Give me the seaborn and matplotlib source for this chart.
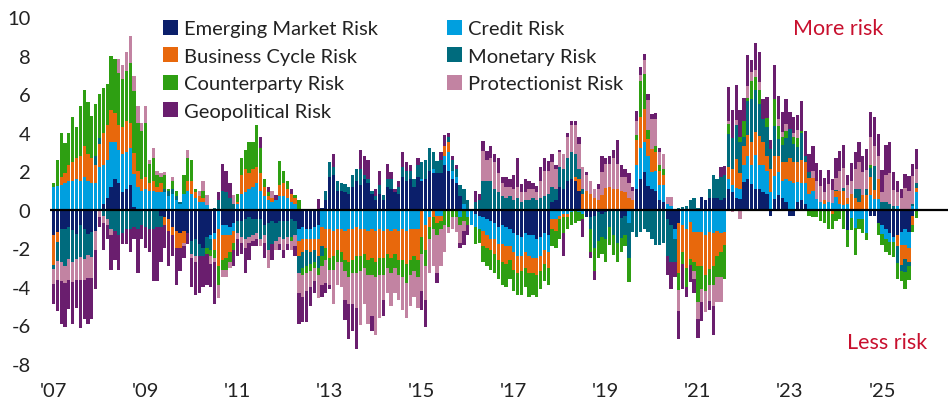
import numpy as np
import matplotlib
matplotlib.use("Agg")
import matplotlib.pyplot as plt
import seaborn as sns
from matplotlib.patches import Patch

# Monthly values, Jan 2007 .. Oct 2025 (12 per row = one year)
emerging_market = [
    -1.33, -1.16, -1.0, -1.0, -0.9, -1.07, -1.24, -0.8, -1.0, -1.24, -1.16, -1.1,
    0.0, 0.3, 0.6, 1.2, 1.6, 1.4, 0.9, 1.1, 1.3, 0.15, 0.0, 0.0,
    0.0, 0.0, 0.0, 0.0, -0.3, -0.4, -0.5, -0.9, -1.1, -1.2, -1.1, -1.2,
    -1.6, -1.5, -1.8, -2.0, -1.4, -1.3, -1.2, 0.0, -0.8, -0.8, -0.9, -0.7,
    -0.6, -0.6, -0.5, -0.4, -0.5, -0.5, -0.5, -0.8, -0.7, -0.6, -0.7, -0.6,
    -0.6, -0.6, -0.5, -0.6, -1.0, -0.9, -1.0, -1.0, -0.9, -0.8, 0.1, 0.5,
    1.7, 1.8, 1.0, 1.0, 0.9, 0.8, 1.2, 1.5, 1.3, 1.6, 1.4, 0.8,
    0.5, 0.8, 0.5, 1.2, 1.1, 0.9, 0.8, 1.7, 1.5, 1.6, 1.2, 1.7,
    1.5, 1.6, 2.0, 1.9, 1.9, 1.9, 2.3, 2.0, 1.6, 1.4, 0.7, 0.0,
    0.0, 0.0, -0.2, -0.3, -0.4, -0.5, -0.6, -0.7, -0.9, -0.8, -0.9, -1.0,
    -1.2, -1.3, -1.4, -1.2, -1.3, -1.3, -1.5, -1.4, -1.2, -1.3, 0.4, 0.5,
    1.2, 1.1, 1.5, 1.6, 1.5, 1.0, 0.0, -0.35, -0.4, -0.3, -0.1, -0.2,
    -0.1, 0.0, 0.0, 0.0, -0.45, -0.3, 0.0, 0.0, 1.1, 1.6, 1.95, 1.25,
    1.1, 1.0, 0.5, 0.4, -0.5, -0.8, -1.0, -0.7, 0.0, 0.0, 0.0, 0.0,
    0.0, 0.65, 0.5, 0.6, 0.6, 0.6, 0.5, 0.6, 1.09, 0.9, 0.6, 0.55,
    1.45, 1.6, 1.35, 1.1, 1.1, 0.9, 0.8, -0.3, 0.55, 0.75, 0.6, 0.4,
    -0.3, -0.3, 0.4, 0.5, 0.3, 0.0, 0.0, 0.0, 0.0, 0.0, 0.0, 0.0,
    0.0, 0.0, 0.0, -1.05, 0.0, 0.0, 0.0, 0.0, 0.0, -0.3, -0.3, -0.7,
    -0.8, -1.0, -1.2, -1.4, -1.3, -1.15, -1.0, -1.15, -0.3, 0.0,
]
credit = [
    1.17, 1.25, 1.3, 1.4, 1.5, 1.5, 1.6, 1.5, 1.7, 1.5, 1.4, 1.4,
    2.2, 2.0, 2.0, 2.3, 1.9, 1.7, 2.0, 1.9, 1.9, 1.7, 1.2, 1.0,
    1.1, 1.0, 1.0, 0.9, 0.9, 0.9, 0.7, 0.8, 0.5, 0.3, 0.8, 1.0,
    0.8, 0.6, 0.4, 0.4, 0.25, -0.2, -0.3, -1.0, -0.5, -0.5, -0.4, -0.4,
    0.3, 0.8, 0.9, 1.1, 1.2, 1.4, 1.0, 0.7, 0.5, 0.4, 0.5, 0.7,
    0.7, 0.6, 0.4, 0.3, -0.6, -0.6, -0.5, -0.5, -0.6, -0.7, -0.9, -1.0,
    -1.0, -1.1, -1.0, -1.0, -1.1, -1.0, -1.0, -0.9, -1.0, -1.0, -1.1, -1.0,
    -1.1, -1.0, -1.1, -1.0, -1.1, -1.0, -1.1, -1.0, -1.1, -1.0, -1.0, -1.0,
    0.1, -0.8, -0.4, 0.2, -0.3, -0.3, 0.5, 1.0, 0.4, 0.3, -0.4, 0.3,
    -0.4, -0.8, -0.7, -0.7, -0.7, -0.8, -0.9, -0.8, -0.9, -1.0, -1.0, -0.9,
    -1.0, -1.1, -1.0, -1.0, -1.1, -1.2, -1.0, -1.0, -0.9, -0.9, -0.5, -0.5,
    -0.3, -0.2, -0.2, -0.1, 0.0, -0.1, -0.2, 0.0, 0.0, 0.0, 0.0, 0.0,
    0.0, 0.0, 0.0, 0.0, 0.0, 0.0, -0.7, 0.0, 1.2, 1.6, 1.55, 1.55,
    0.85, 1.0, 0.8, 0.9, 0.3, 0.2, -0.5, 0.0, -0.8, -1.0, -0.65, -1.15,
    -1.15, -1.15, -1.3, -1.15, -1.2, -1.1, -1.2, -1.15, 0.52, 0.4, 0.55, 0.55,
    0.85, 1.2, 0.95, 1.75, 1.2, 1.4, 1.2, 0.9, 1.2, 1.2, 0.9, 1.2,
    1.5, 1.4, 1.05, 0.9, 1.1, 0.8, 0.95, 0.55, 0.4, 0.3, 0.4, 0.35,
    0.65, 0.3, 0.25, 0.3, -0.45, -0.95, -0.5, -0.5, -1.2, 0.75, 0.55, 0.55,
    -0.45, -0.5, -0.45, -0.25, 0.2, -0.7, -0.85, -0.85, 0.2, 0.9,
]
business_cycle = [
    -1.55, -0.5, 0.4, 0.5, 0.8, 1.0, 1.1, 1.3, 1.6, 1.4, 1.3, 0.9,
    1.2, 1.7, 1.8, 1.7, 1.5, 1.3, 1.4, 1.6, 1.3, 1.1, 0.8, 0.6,
    0.6, 0.4, 0.5, 0.3, 0.5, -0.4, -0.6, -0.4, -0.9, -0.8, -0.6, 0.5,
    0.7, 0.3, 0.3, 0.2, 0.0, 0.05, -0.6, -1.9, -1.3, -1.2, -0.9, -0.6,
    0.1, 1.0, 1.2, 0.8, 0.9, 0.8, 0.9, 0.5, 0.2, 0.2, 0.0, 0.6,
    0.7, 0.5, 0.4, 0.3, -0.8, -0.7, -0.6, -0.7, -0.6, -0.9, -1.0, -1.0,
    -1.5, -1.3, -1.1, -1.2, -1.5, -1.7, -1.6, -1.5, -1.4, -1.3, -1.5, -1.5,
    -1.6, -1.5, -1.4, -1.3, -1.4, -1.3, -1.5, -1.6, -1.7, -1.6, -1.4, -1.6,
    -1.4, -1.3, -0.5, -0.4, -0.4, -0.3, 0.5, 0.5, 0.0, 0.0, 0.0, 0.0,
    0.0, 0.0, 0.0, 0.0, -0.8, -0.7, -0.6, -0.8, -0.8, -0.9, -0.9, -0.7,
    -0.9, -0.9, -0.8, -0.8, -0.9, -0.8, -0.9, -0.8, -0.7, -0.8, -0.5, -0.6,
    -0.2, -0.2, -0.2, 0.0, 0.2, 0.6, 0.8, 1.0, 0.8, 0.6, 0.5, 0.75,
    1.15, 1.2, 1.1, 1.1, 1.0, 0.9, 0.6, 0.5, 1.3, 1.6, 1.75, 0.85,
    1.2, 1.0, 0.7, 0.5, 0.0, 0.0, 0.0, -2.6, -1.4, -2.0, -1.9, -1.55,
    -1.75, -1.75, -2.1, -1.9, -1.7, -1.3, -1.0, -0.7, 0.6, 0.8, 1.5, 0.8,
    1.0, 1.1, 1.2, 1.2, 1.55, 1.2, 0.8, 1.2, 1.05, 0.85, 1.0, 0.9,
    1.2, 1.1, 1.05, 1.2, 1.1, 0.85, 0.7, 0.0, 0.0, 0.2, 0.0, -0.2,
    0.3, 0.7, 0.7, 0.3, 0.8, 0.6, 0.4, 0.75, 0.75, 0.95, 0.5, 1.05,
    0.0, 0.0, 0.0, 0.0, -0.6, -1.0, -0.7, -0.7, -0.5, 0.25,
]
monetary = [
    -0.17, -1.0, -1.7, -1.9, -1.65, -1.65, -1.3, -1.65, -1.55, -1.1, -1.3, 0.5,
    0.3, -0.3, -0.5, -1.0, -1.1, -1.3, -1.2, -1.0, -1.0, -0.9, -1.0, -0.8,
    -0.9, -1.0, -1.0, -0.9, -0.6, 0.2, 0.3, 0.3, 0.2, 0.1, 0.0, 0.0,
    -0.7, -0.9, -0.6, -0.4, -0.6, -0.6, 0.1, 0.5, 1.0, 0.9, 0.6, 0.3,
    -0.6, -0.8, -1.0, -1.0, -0.8, -0.7, -1.0, -0.5, -1.4, -1.2, -0.9, -0.8,
    -0.9, -0.8, -0.9, -0.7, -0.9, -0.8, -0.8, -0.6, -0.6, -0.6, -0.5, 0.5,
    0.8, 0.4, 0.5, 0.4, 0.45, 0.4, 0.6, 0.6, 0.8, 0.2, 0.2, 0.2,
    0.2, 0.5, 0.25, 0.4, 0.5, 0.0, 0.4, 0.5, 0.5, 0.4, 0.4, 0.6,
    0.9, 1.0, 1.2, 0.9, 0.65, 0.7, 0.0, 0.3, 0.6, 0.4, 0.6, 0.8,
    0.5, 0.0, 0.4, 0.5, 1.5, 1.5, 1.5, 1.1, 0.9, 0.7, 0.6, 0.7,
    0.5, 0.6, 0.4, 0.5, 0.5, 0.6, 0.5, 0.6, 0.7, 0.8, 0.8, 0.6,
    1.0, 1.0, 1.2, 1.4, 1.2, 0.5, 0.3, 0.0, -0.6, -1.7, -1.5, -1.2,
    -1.4, -0.9, -1.3, -1.7, -1.0, -1.0, -1.8, -1.15, -1.4, -1.15, -1.0, -1.15,
    -1.5, -1.85, -1.85, -1.7, -1.9, -1.9, -1.2, 0.1, 0.15, 0.2, 0.5, 0.6,
    0.1, 0.0, 0.0, 0.5, 1.2, 1.0, 1.2, 1.2, 1.73, 1.6, 1.75, 1.6,
    0.5, 1.75, 2.25, 2.15, 1.65, 1.2, 1.5, 1.05, 1.55, 0.85, 0.85, 1.2,
    1.5, 0.9, 0.75, 1.4, 0.3, 0.3, 0.0, 0.0, 0.0, 0.0, 0.0, 0.0,
    0.1, 0.0, 0.2, 0.0, 0.0, 0.5, 0.7, 0.0, 0.35, 0.45, 1.2, 0.0,
    0.4, 0.4, 0.3, 0.2, -0.85, -0.35, -0.7, -0.2, 0.1, 0.25,
]
counterparty = [
    0.22, 1.35, 2.3, 1.55, 1.7, 2.3, 1.6, 2.6, 2.9, 2.7, 2.15, 2.7,
    2.3, 2.3, 2.1, 2.8, 2.8, 2.7, 2.5, 2.6, 3.1, 3.2, 2.5, 2.5,
    2.8, 1.0, 1.2, 0.6, 0.3, 0.7, 0.1, 0.4, 0.3, 0.0, 1.0, 1.2,
    1.1, 0.2, 0.0, 0.4, -0.3, -0.3, -0.4, -1.0, -0.5, -0.6, -0.5, -0.4,
    0.4, 0.9, 1.0, 1.6, 1.4, 2.2, 1.3, 0.4, 0.2, 0.0, 0.0, 1.25,
    0.6, 0.4, -0.2, 0.15, 0.5, -0.4, -0.4, -0.4, -0.3, -0.4, -0.5, -0.6,
    -0.6, -0.7, -0.6, -0.5, -0.6, -0.8, -0.7, -0.9, -0.8, -0.7, -0.8, -0.9,
    -0.8, -0.9, -0.9, -0.7, -0.8, -0.7, -0.8, -0.9, -1.0, -0.8, -0.8, -0.9,
    -0.9, -0.8, -0.6, -0.6, -0.6, -0.4, -0.8, -0.9, -0.4, -0.4, -0.4, -0.6,
    -0.4, 0.0, -0.9, -0.7, -0.8, -0.9, -1.0, -1.0, -1.0, -1.2, -1.2, -1.0,
    -1.1, -1.1, -1.2, -1.0, -1.2, -1.1, -1.1, -0.9, -0.9, -0.9, -0.9, -0.9,
    -1.0, -0.8, -0.6, -0.7, -0.7, -0.5, -0.3, 0.0, -1.2, -1.2, -0.9, -0.9,
    -1.2, -0.95, -1.05, -1.0, -0.75, -0.6, -1.25, 0.0, 0.3, 1.9, 1.8, 0.5,
    0.0, 0.3, 0.3, 0.3, 0.0, 0.0, 0.0, -0.85, -0.6, -1.0, -0.3, -0.5,
    -1.9, -1.2, -0.8, -0.85, -1.0, -1.1, -1.3, -1.75, 0.52, 0.0, 0.0, 0.3,
    0.8, 0.15, 0.95, 0.7, 0.7, 0.0, 0.45, 0.0, 1.4, 0.7, 0.4, 0.4,
    0.0, 0.4, 0.45, 0.1, 0.0, -0.3, -0.4, -0.4, -0.6, -0.7, -1.0, -0.8,
    -0.6, -0.5, -1.0, -0.9, -0.6, -1.4, -0.5, -0.7, -0.35, 0.15, 0.0, -0.6,
    -0.6, -0.7, -0.7, -0.8, -0.85, -0.5, -0.85, -0.75, -0.35, -0.45,
]
protectionist = [
    -0.78, -1.0, -1.0, -0.9, -1.1, -1.05, -1.1, -1.2, -1.1, -1.2, -1.1, -1.0,
    -0.4, -0.4, -0.3, -0.3, 0.0, 0.7, 0.7, 1.0, 1.4, 0.8, 0.9, 0.4,
    0.9, 0.2, 0.5, 0.2, 0.2, 0.15, 0.0, 0.2, 0.0, 0.0, -0.2, 0.4,
    -0.2, -0.3, 0.3, 0.5, 0.5, -0.4, -0.2, -0.7, -0.4, -0.4, -0.3, 0.45,
    -0.3, -0.3, -0.5, -0.3, -0.3, -0.3, -0.4, -0.4, -0.9, 0.4, -0.5, -0.4,
    -0.6, -0.4, -0.5, -0.6, -1.0, -1.1, -0.9, -0.8, -0.7, -1.2, -1.0, -1.2,
    -0.8, -1.8, -1.2, -1.3, -1.5, -1.4, -1.6, -1.8, -2.8, -1.9, -2.5, -2.1,
    -3.0, -2.2, -1.3, -1.3, -1.7, -1.3, -1.3, -1.7, -1.8, -1.6, -1.3, -1.6,
    -1.9, -1.8, -1.8, -1.9, -2.0, -1.9, -1.4, -0.3, -0.6, -0.75, -0.9, -0.5,
    0.0, 0.0, 0.0, 0.0, 1.55, 1.1, 1.2, 1.4, 1.0, 0.7, 0.6, 0.5,
    0.6, 0.6, 0.5, 0.4, 0.6, 0.5, 0.4, 0.9, 1.3, 1.2, 1.3, 1.0,
    0.8, 0.8, 1.1, 1.4, 1.5, 1.3, 1.1, 0.8, 0.7, 0.5, 0.6, 1.2,
    1.2, 1.2, 1.6, 1.3, 0.7, 0.8, 0.8, 0.5, 0.7, 0.3, 0.7, 1.55,
    1.55, 1.4, 0.7, 0.8, 0.35, 0.45, 0.0, -1.1, 0.0, 0.0, 0.0, -0.4,
    -0.85, -0.7, -1.1, -0.85, -1.1, -1.3, -1.3, 0.0, 0.17, -0.1, 0.25, -0.5,
    0.0, 0.6, 0.45, 0.35, 0.45, 0.0, 0.0, 0.0, 0.0, 0.35, 0.3, 0.35,
    0.0, 0.2, 0.45, 0.0, 0.0, 0.0, 0.35, 0.95, 0.85, 0.4, 0.95, 0.7,
    0.6, 1.0, 1.0, 0.7, 0.7, 1.0, 1.4, 1.2, 0.95, 1.5, 1.05, 1.2,
    0.5, 1.4, 1.6, 0.85, 0.7, 0.6, 1.15, 0.95, 1.45, 0.7,
]
geopolitical = [
    -1.04, -1.6, -2.25, -2.3, -1.5, -2.15, -1.45, -2.5, -2.0, -2.4, -2.1, -2.0,
    -0.5, -1.4, -0.7, -1.8, -1.5, -1.8, -0.6, -0.8, -1.2, -0.6, -2.3, -0.7,
    -1.1, -1.2, -2.7, -2.8, -1.8, -1.2, -1.8, -1.1, -1.9, -1.2, -0.6, -0.6,
    -1.5, -1.7, -1.9, -1.6, -1.6, -1.2, -2.2, 0.4, 1.4, 1.1, 0.8, -0.8,
    -0.9, -0.6, -1.3, -0.9, -0.3, -0.4, 0.6, -0.8, 0.3, -0.8, 0.25, -0.3,
    -0.4, -0.3, 0.3, -0.5, -1.6, -1.3, -1.6, -1.0, -0.6, 0.55, -0.6, -0.5,
    -0.2, 0.7, 0.0, 0.0, -1.0, -1.8, -1.4, -2.1, 1.0, 1.0, 1.0, -0.8,
    0.4, 0.7, -0.8, 0.8, 0.35, 0.2, 0.3, 0.8, 0.5, 0.3, 0.0, 0.4,
    -1.0, -1.4, 0.0, 0.0, -0.5, 0.4, 0.6, 0.2, 0.2, 0.2, -0.3, -0.75,
    -0.5, 0.0, 0.6, 0.3, 0.5, 0.45, 0.6, 0.4, 0.8, 0.3, 0.5, 0.4,
    0.7, 1.5, 0.45, 0.7, 0.4, 0.3, 0.35, 0.7, 0.7, 0.55, 0.4, 0.2,
    0.1, -1.2, 0.2, 0.2, 0.2, 0.35, -0.9, 0.15, -0.3, -0.45, 0.25, 0.85,
    0.35, 0.4, 0.4, 1.2, 0.6, 0.4, 0.5, 0.2, 0.5, 0.4, 0.35, 0.3,
    0.25, 0.3, 0.2, 0.0, -1.0, -1.4, -0.8, -1.45, -1.3, -0.5, -0.9, -0.7,
    -1.0, -0.95, 0.0, -0.45, -1.5, 0.0, 0.5, 0.45, 1.73, 1.45, 1.8, 1.4,
    1.2, 1.65, 0.6, 1.4, 1.55, 1.05, 1.1, 0.45, 1.75, 1.2, 1.0, 1.3,
    0.85, 0.8, 0.75, 1.55, 1.3, 0.95, 1.3, 0.95, 0.8, 0.75, 0.7, 0.55,
    1.05, 1.05, 1.2, 0.5, 0.95, 0.9, 1.0, 0.85, 1.1, 1.25, 1.5, 1.15,
    1.15, 1.55, 1.6, 0.9, 0.6, 0.5, 0.7, 0.8, 0.6, 1.05,
]

series_names = ["Emerging Market Risk", "Credit Risk", "Business Cycle Risk",
                "Monetary Risk", "Counterparty Risk", "Protectionist Risk",
                "Geopolitical Risk"]
series_values = [emerging_market, credit, business_cycle, monetary,
                 counterparty, protectionist, geopolitical]
series_colors = ["#0B1F6B", "#009FDF", "#E8680C", "#006B7D",
                 "#2E9F12", "#C283A2", "#6A1E6E"]
legend_order = ["Emerging Market Risk", "Business Cycle Risk", "Counterparty Risk",
                "Geopolitical Risk", "Credit Risk", "Monetary Risk", "Protectionist Risk"]
tick_months = [0, 24, 48, 72, 96, 120, 144, 168, 192, 216]
tick_labels = ["'07", "'09", "'11", "'13", "'15", "'17", "'19", "'21", "'23", "'25"]
y_ticks = [-8, -6, -4, -2, 0, 2, 4, 6, 8, 10]

sns.set_theme(style="white")
plt.rcParams["font.family"] = ["Lato", "DejaVu Sans"]
plt.rcParams["axes.unicode_minus"] = False

vals = np.array(series_values, dtype=float)
n = vals.shape[1]
months = np.arange(n)
pos = np.clip(vals, 0, None)
neg = np.clip(vals, None, 0)
cum_pos = np.cumsum(pos, axis=0)
cum_neg = np.cumsum(neg, axis=0)

fig = plt.figure(figsize=(9.48, 4.06), dpi=100)
ax = fig.add_axes([50 / 948, 41 / 406, 1 - 50 / 948, 347 / 406])

# outermost layers first; inner layers drawn on top leave the visible segment
for k in range(len(series_names) - 1, -1, -1):
    for cum in (cum_pos, cum_neg):
        sns.barplot(x=months, y=cum[k], color=series_colors[k], saturation=1,
                    width=0.86, linewidth=0, errorbar=None, native_scale=True,
                    ax=ax)

ax.axhline(0, color="black", lw=1.6, zorder=5)
ax.set_xlim(-0.91, 233.2)
ax.set_ylim(-8, 10)
ax.set_yticks(y_ticks)
ax.set_yticklabels([str(t) for t in y_ticks])
ax.set_xticks(tick_months)
ax.set_xticklabels(tick_labels)
ax.set_xlabel("")
ax.set_ylabel("")
ax.tick_params(axis="both", length=0, labelsize=14.5, colors="#222222")
ax.tick_params(axis="y", pad=14)
ax.tick_params(axis="x", pad=13)
for s in ax.spines.values():
    s.set_visible(False)
ax.grid(False)

handles = [Patch(facecolor=series_colors[series_names.index(nm)], edgecolor="none")
           for nm in legend_order]
fig.legend(handles, legend_order, loc="upper left",
           bbox_to_anchor=(163 / 948, 1 - 21 / 406), frameon=False, ncol=2,
           fontsize=14.5, handlelength=0.75, handleheight=0.75,
           handletextpad=0.3, columnspacing=3.4, labelspacing=0.5,
           borderpad=0, borderaxespad=0, labelcolor="#222222")

fig.text(883 / 948, 1 - 29 / 406, "More risk", color="#C8102E", fontsize=15.5,
         ha="right", va="center")
fig.text(927 / 948, 1 - 343 / 406, "Less risk", color="#C8102E", fontsize=15.5,
         ha="right", va="center")

fig.savefig("out.png", dpi=100)
